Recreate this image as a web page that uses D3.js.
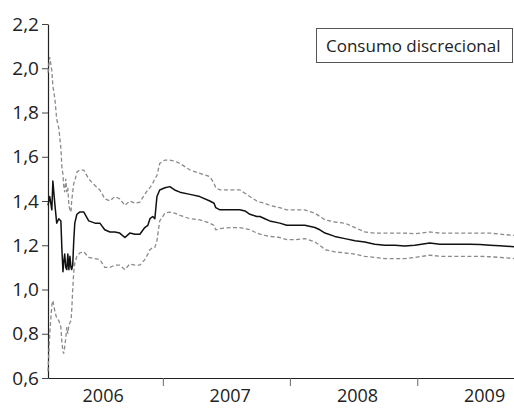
<!DOCTYPE html>
<html>
<head>
<meta charset="utf-8">
<script src="https://cdn.jsdelivr.net/npm/d3@7"></script>
<style>
  html, body { margin: 0; padding: 0; background: #fff; }
  svg { display: block; }
  text { font-family: "Open Sans", "DejaVu Sans", sans-serif; fill: #222; }
</style>
</head>
<body>
<svg id="chart" width="514" height="408"></svg>
<script>
// Observation dates
const dates = [
  "2006-02-05","2006-02-10","2006-02-16","2006-02-19","2006-02-25","2006-03-02","2006-03-08","2006-03-14",
  "2006-03-17","2006-03-20","2006-03-22","2006-03-25","2006-03-28","2006-03-31","2006-04-03","2006-04-06",
  "2006-04-09","2006-04-12","2006-04-14","2006-04-17","2006-04-20","2006-04-23","2006-04-29","2006-05-07",
  "2006-05-19","2006-06-02","2006-06-20","2006-07-04","2006-07-18","2006-08-02","2006-08-16","2006-08-30",
  "2006-09-14","2006-09-28","2006-10-13","2006-10-27","2006-11-10","2006-11-19","2006-11-25","2006-12-03",
  "2006-12-09","2006-12-15","2006-12-23","2007-01-07","2007-01-21","2007-02-04","2007-02-19","2007-03-20",
  "2007-04-17","2007-05-16","2007-05-28","2007-06-02","2007-06-14","2007-07-13","2007-08-10","2007-08-25",
  "2007-09-08","2007-09-28","2007-10-07","2007-10-21","2007-11-04","2007-12-03","2007-12-23","2008-01-15",
  "2008-02-13","2008-03-13","2008-03-27","2008-04-11","2008-05-09","2008-06-07","2008-07-06","2008-08-03",
  "2008-09-01","2008-09-30","2008-10-29","2008-11-26","2008-12-25","2009-02-06","2009-03-07","2009-04-05",
  "2009-05-03","2009-06-01","2009-06-30","2009-07-29","2009-08-26","2009-10-06"
];

// Point estimate
const estimate = [
  1.38,1.42,1.36,1.49,1.38,1.30,1.32,1.31,
  1.18,1.08,1.12,1.16,1.10,1.09,1.16,1.09,
  1.15,1.10,1.09,1.11,1.22,1.30,1.34,1.35,
  1.35,1.31,1.30,1.30,1.27,1.26,1.26,1.255,
  1.235,1.255,1.25,1.25,1.28,1.29,1.32,1.33,
  1.32,1.42,1.45,1.46,1.465,1.45,1.44,1.43,
  1.42,1.40,1.39,1.37,1.36,1.36,1.36,1.355,
  1.34,1.33,1.33,1.32,1.31,1.30,1.29,1.29,
  1.29,1.28,1.27,1.255,1.24,1.23,1.22,1.215,
  1.205,1.20,1.20,1.197,1.20,1.21,1.205,1.205,
  1.205,1.205,1.203,1.20,1.198,1.193
];

// Upper confidence band
const upper = [
  1.98,2.05,1.99,1.92,1.86,1.77,1.73,1.64,
  1.55,1.52,1.47,1.44,1.50,1.44,1.46,1.38,
  1.36,1.35,1.40,1.44,1.48,1.49,1.53,1.54,
  1.54,1.50,1.47,1.45,1.41,1.40,1.42,1.41,
  1.38,1.40,1.39,1.395,1.43,1.45,1.46,1.48,
  1.50,1.515,1.57,1.585,1.585,1.58,1.57,1.54,
  1.525,1.51,1.48,1.46,1.45,1.45,1.45,1.435,
  1.42,1.40,1.395,1.39,1.38,1.37,1.36,1.36,
  1.36,1.345,1.33,1.315,1.305,1.30,1.28,1.26,
  1.255,1.255,1.255,1.255,1.252,1.26,1.255,1.255,
  1.255,1.255,1.255,1.255,1.25,1.245
];

// Lower confidence band
const lower = [
  0.63,0.80,0.93,0.95,0.90,0.87,0.86,0.83,
  0.76,0.72,0.71,0.74,0.78,0.83,0.80,0.84,
  0.85,0.86,0.90,1.00,1.08,1.12,1.15,1.165,
  1.17,1.145,1.14,1.135,1.10,1.10,1.11,1.11,
  1.09,1.115,1.11,1.11,1.135,1.16,1.18,1.19,
  1.19,1.22,1.31,1.345,1.35,1.345,1.335,1.32,
  1.315,1.30,1.29,1.27,1.275,1.28,1.28,1.275,
  1.27,1.255,1.25,1.245,1.24,1.235,1.225,1.225,
  1.23,1.215,1.20,1.18,1.17,1.165,1.16,1.15,
  1.145,1.14,1.14,1.14,1.145,1.155,1.15,1.15,
  1.15,1.15,1.15,1.148,1.145,1.14
];

const yTicks = [0.6, 0.8, 1.0, 1.2, 1.4, 1.6, 1.8, 2.0, 2.2];
const yearBreaks = ["2007-01-01", "2008-01-01", "2009-01-01"];
const yearLabels = ["2006", "2007", "2008", "2009"];
const legendLabel = "Consumo discrecional";

const parse = d3.utcParse("%Y-%m-%d");
const rows = dates.map((d, i) => ({
  date: parse(d), est: estimate[i], hi: upper[i], lo: lower[i]
}));

const plot = { left: 48, right: 514, top: 24, bottom: 378 };

const x = d3.scaleUtc()
  .domain([parse(dates[0]), parse(dates[dates.length - 1])])
  .range([plot.left, plot.right]);
const y = d3.scaleLinear().domain([0.6, 2.2]).range([plot.bottom, plot.top]);

const esLocale = d3.formatLocale({ decimal: ",", thousands: ".", grouping: [3], currency: ["", ""] });
const fmt = esLocale.format(".1f");

const svg = d3.select("#chart");

// Y axis
const yAxis = svg.append("g")
  .attr("transform", `translate(${plot.left},0)`)
  .call(d3.axisLeft(y).tickValues(yTicks).tickFormat(fmt).tickSize(6).tickSizeOuter(0).tickPadding(3));
yAxis.select(".domain").attr("stroke", "#222").attr("stroke-width", 1.2);
yAxis.selectAll(".tick line").attr("stroke", "#444");
yAxis.selectAll(".tick text").style("font-size", "19px").attr("fill", "#222");

// X axis: year boundaries as ticks, year names centred in each year
const xAxis = svg.append("g")
  .attr("transform", `translate(0,${plot.bottom})`)
  .call(d3.axisBottom(x).tickValues(yearBreaks.map(parse)).tickFormat("").tickSize(8).tickSizeOuter(0));
xAxis.select(".domain").attr("stroke", "#222").attr("stroke-width", 1.2);
xAxis.selectAll(".tick line").attr("stroke", "#666");

svg.append("g").selectAll("text")
  .data(yearLabels)
  .join("text")
  .attr("x", d => x(parse(d + "-07-02")) + 4)
  .attr("y", 402)
  .attr("text-anchor", "middle")
  .style("font-size", "18px")
  .text(d => d);

// Series
const lineOf = key => d3.line().x(d => x(d.date)).y(d => y(d[key]));

svg.append("path").datum(rows)
  .attr("d", lineOf("hi"))
  .attr("fill", "none").attr("stroke", "#8a8a8a").attr("stroke-width", 1.3)
  .attr("stroke-dasharray", "4,2.5");
svg.append("path").datum(rows)
  .attr("d", lineOf("lo"))
  .attr("fill", "none").attr("stroke", "#8a8a8a").attr("stroke-width", 1.3)
  .attr("stroke-dasharray", "4,2.5");
svg.append("path").datum(rows)
  .attr("d", lineOf("est"))
  .attr("fill", "none").attr("stroke", "#111").attr("stroke-width", 1.5)
  .attr("stroke-linejoin", "round");

// Legend box
const lg = svg.append("g");
lg.append("rect")
  .attr("x", 316.5).attr("y", 28.5).attr("width", 196).attr("height", 34)
  .attr("fill", "#fff").attr("stroke", "#555").attr("stroke-width", 1);
lg.append("text")
  .attr("x", 326).attr("y", 52)
  .style("font-size", "17px")
  .text(legendLabel);
</script>
</body>
</html>
